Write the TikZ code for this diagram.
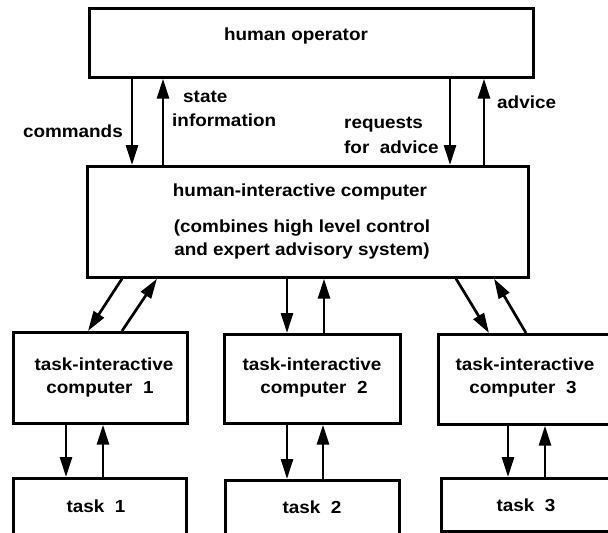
\documentclass[tikz,border=0pt]{standalone}
\usepackage{fontspec}
\newfontfamily\labelfont{Liberation Sans}[FakeStretch=1.08]
\usetikzlibrary{arrows.meta}
\tikzset{
  box/.style={draw, line width=2.7pt, inner sep=0pt, anchor=north west},
  lbl/.style={font={\labelfont\bfseries\fontsize{17.5}{20}\selectfont}, inner sep=0pt},
  arr/.style={line width=2.7pt, -{Triangle[length=20pt,width=12pt]}},
}
\begin{document}
\begin{tikzpicture}[x=1pt,y=-1pt]
\useasboundingbox (0,0) rectangle (608,533);
\clip (0,0) rectangle (608,533);
% boxes
\node[box, minimum width=444pt, minimum height=69pt]  (ho)   at (88,7)    {};
\node[box, minimum width=441pt, minimum height=111pt] (hic)  at (86,165)  {};
\node[box, minimum width=174pt, minimum height=91pt]  (tic1) at (12,331)  {};
\node[box, minimum width=176pt, minimum height=89pt]  (tic2) at (223,333) {};
\node[box, minimum width=178pt, minimum height=90pt]  (tic3) at (437,333) {};
\node[box, minimum width=173pt, minimum height=70pt]  (t1)   at (12,477)  {};
\node[box, minimum width=174pt, minimum height=70pt]  (t2)   at (224,479) {};
\node[box, minimum width=175pt, minimum height=53pt]  (t3)   at (440,477) {};
% texts
\node[lbl, anchor=base] (hotx) at (296,40) {human operator};
\node[lbl, anchor=base] (hicx1) at (300,196) {human-interactive computer};
\node[lbl, anchor=base] (hicx2) at (302,232) {(combines high level control};
\node[lbl, anchor=base] (hicx3) at (302,255) {and expert advisory system)};
\node[lbl, anchor=base] (tic1x1) at (104,370) {task-interactive};
\node[lbl, anchor=base] (tic1x2) at (100,393) {computer~~1};
\node[lbl, anchor=base] (tic2x1) at (312,370) {task-interactive};
\node[lbl, anchor=base] (tic2x2) at (314,393) {computer~~2};
\node[lbl, anchor=base] (tic3x1) at (525,370) {task-interactive};
\node[lbl, anchor=base] (tic3x2) at (523,393) {computer~~3};
\node[lbl, anchor=base] (t1x) at (96,512) {task~~1};
\node[lbl, anchor=base] (t2x) at (312,513) {task~~2};
\node[lbl, anchor=base] (t3x) at (526,511) {task~~3};
% arrow labels
\node[lbl, anchor=base east] (cmd) at (123,137) {commands};
\node[lbl, anchor=base west] (st1) at (183,102) {state};
\node[lbl, anchor=base west] (st2) at (172,126) {information};
\node[lbl, anchor=base west] (rq1) at (344,128) {requests};
\node[lbl, anchor=base west] (rq2) at (344,153) {for~~advice};
\node[lbl, anchor=base west] (adv) at (497,108) {advice};
% arrows between human operator and human-interactive computer
\draw[arr] ([xshift=44pt]ho.south west) -- ([xshift=46pt]hic.north west);
\draw[arr] ([xshift=77pt]hic.north west) -- ([xshift=75pt]ho.south west);
\draw[arr] ([xshift=362pt]ho.south west) -- ([xshift=364pt]hic.north west);
\draw[arr] ([xshift=398pt]hic.north west) -- ([xshift=396pt]ho.south west);
% arrows between human-interactive and task-interactive computers
\draw[arr] ([xshift=36pt]hic.south west) -- ([xshift=76pt]tic1.north west);
\draw[arr] ([xshift=110pt]tic1.north west) -- ([xshift=71pt]hic.south west);
\draw[arr] ([xshift=201pt]hic.south west) -- ([xshift=64pt]tic2.north west);
\draw[arr] ([xshift=101pt]tic2.north west) -- ([xshift=238pt]hic.south west);
\draw[arr] ([xshift=370pt]hic.south west) -- ([xshift=52pt]tic3.north west);
\draw[arr] ([xshift=89pt]tic3.north west) -- ([xshift=408pt]hic.south west);
% arrows between task-interactive computers and tasks
\draw[arr] ([xshift=54pt]tic1.south west) -- ([xshift=54pt]t1.north west);
\draw[arr] ([xshift=91pt]t1.north west) -- ([xshift=91pt]tic1.south west);
\draw[arr] ([xshift=64pt]tic2.south west) -- ([xshift=63pt]t2.north west);
\draw[arr] ([xshift=99pt]t2.north west) -- ([xshift=100pt]tic2.south west);
\draw[arr] ([xshift=71pt]tic3.south west) -- ([xshift=68pt]t3.north west);
\draw[arr] ([xshift=105pt]t3.north west) -- ([xshift=108pt]tic3.south west);
\end{tikzpicture}
\end{document}
